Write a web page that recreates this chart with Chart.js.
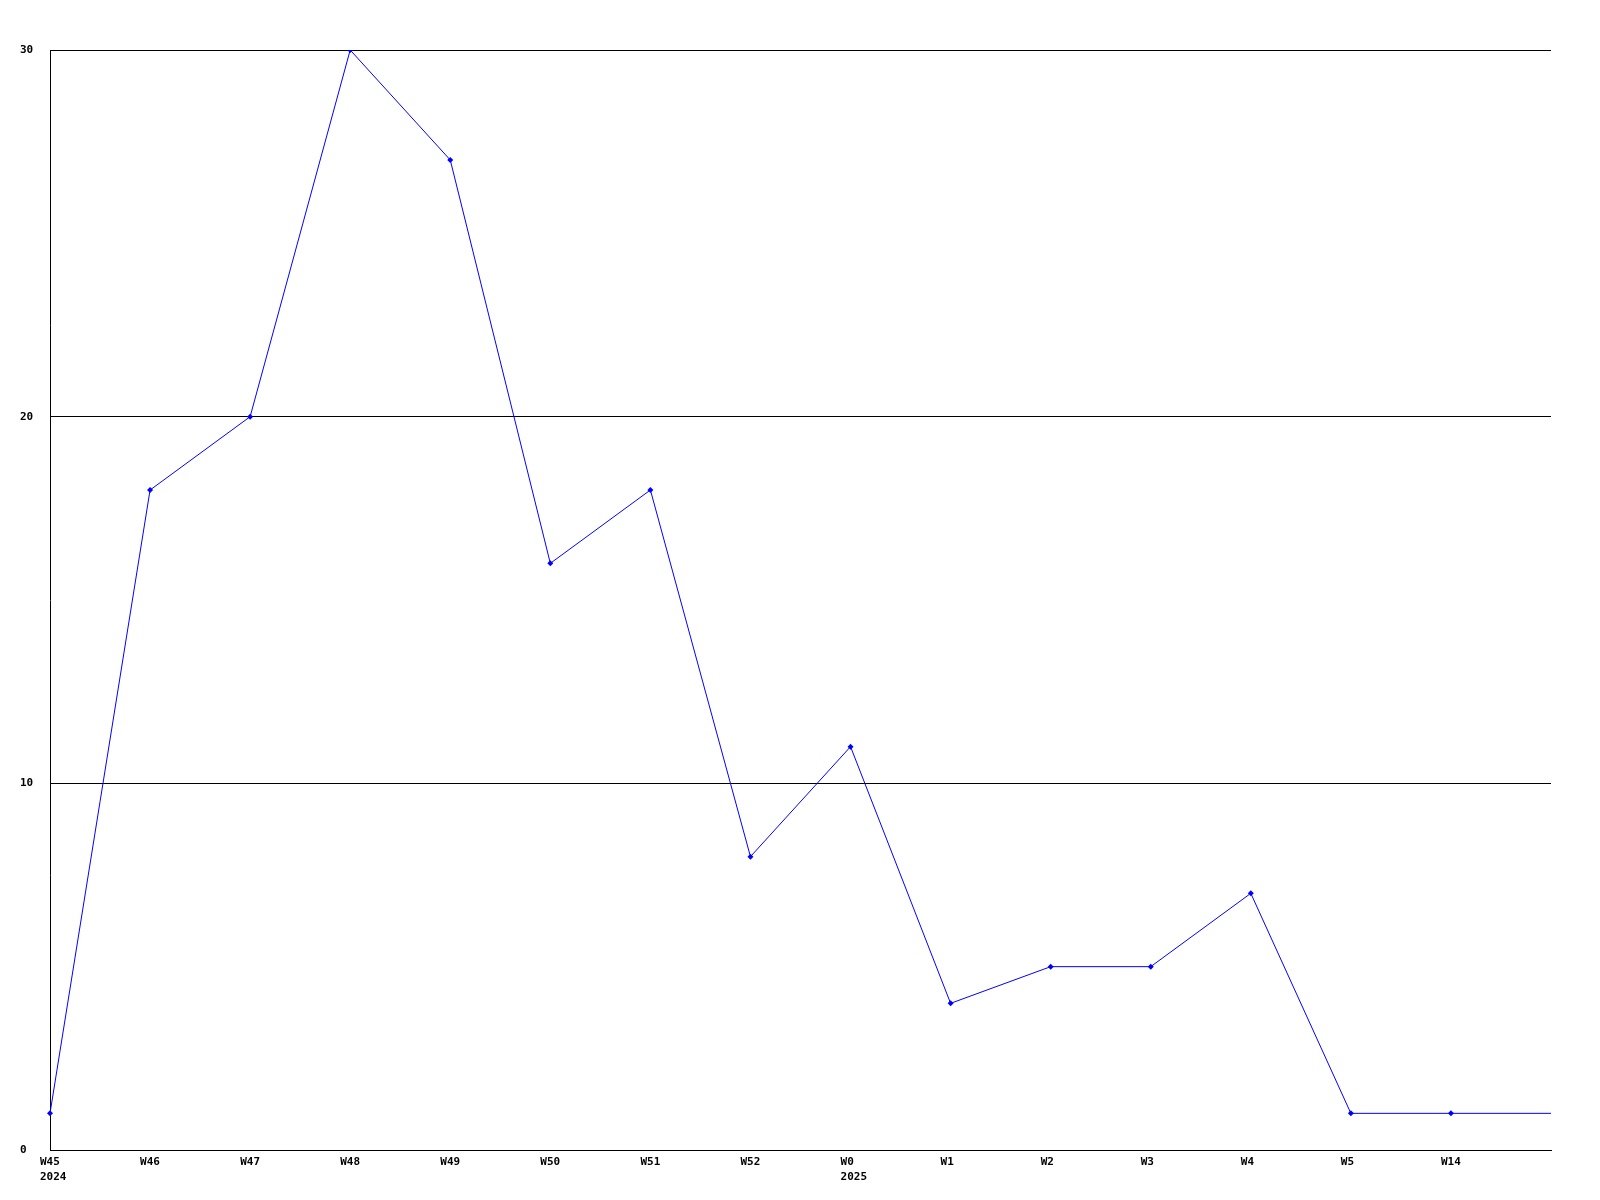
<!DOCTYPE html>
<html>
<head>
<meta charset="utf-8">
<script src="https://cdn.jsdelivr.net/npm/chart.js@4/dist/chart.umd.min.js"></script>
<style>
  html, body { margin: 0; padding: 0; background: #fff; }
  #wrap { width: 1600px; height: 1200px; }
</style>
</head>
<body>
<div id="wrap"><canvas id="chart-weekly" width="1600" height="1200"></canvas></div>
<script>
// weekly counts, Nov 2024 - Apr 2025
const weeks  = ['W45', 'W46', 'W47', 'W48', 'W49', 'W50', 'W51', 'W52', 'W0', 'W1', 'W2', 'W3', 'W4', 'W5', 'W14', ''];
const years  = ['2024', '', '', '', '', '', '', '', '2025', '', '', '', '', '', '', ''];
const counts = [1, 18, 20, 30, 27, 16, 18, 8, 11, 4, 5, 5, 7, 1, 1, 1];
const yTicks = [0, 10, 20, 30];

const blue = '#0000ff';
const tickFont = { family: '"DejaVu Sans Mono", "Liberation Mono", monospace', size: 11, weight: 'bold', lineHeight: 1.35 };

const labels = weeks.map((w, i) => years[i] ? [w, years[i]] : w);

new Chart(document.getElementById('chart-weekly'), {
  type: 'line',
  data: {
    labels,
    datasets: [{
      data: counts,
      borderColor: blue,
      backgroundColor: blue,
      borderWidth: 1,
      tension: 0,
      pointStyle: 'rectRot',
      pointRadius: counts.map((_, i) => i === counts.length - 1 ? 0 : 3),
      pointBorderWidth: 0,
    }]
  },
  options: {
    responsive: false,
    animation: false,
    layout: { padding: { left: 20, top: 50, right: 49, bottom: 0 } },
    plugins: { legend: { display: false }, tooltip: { enabled: false } },
    scales: {
      x: {
        offset: false,
        grid: { display: false, drawTicks: false },
        border: { display: true, color: '#000', width: 1 },
        // labels start a little left of their tick, two lines left-aligned
        ticks: { color: '#000', font: tickFont, autoSkip: false, maxRotation: 0, padding: 5, align: 'start', labelOffset: -10 },
        afterFit: a => { a.height = 50; }
      },
      y: {
        min: 0, max: 30,
        afterBuildTicks: a => { a.ticks = yTicks.map(v => ({ value: v })); },
        grid: { color: '#000', lineWidth: 1, drawTicks: false },
        border: { display: true, color: '#000', width: 1 },
        ticks: { color: '#000', font: tickFont, crossAlign: 'far', padding: 0 },
        afterFit: a => { a.width = 30; }
      }
    }
  }
});
</script>
</body>
</html>
